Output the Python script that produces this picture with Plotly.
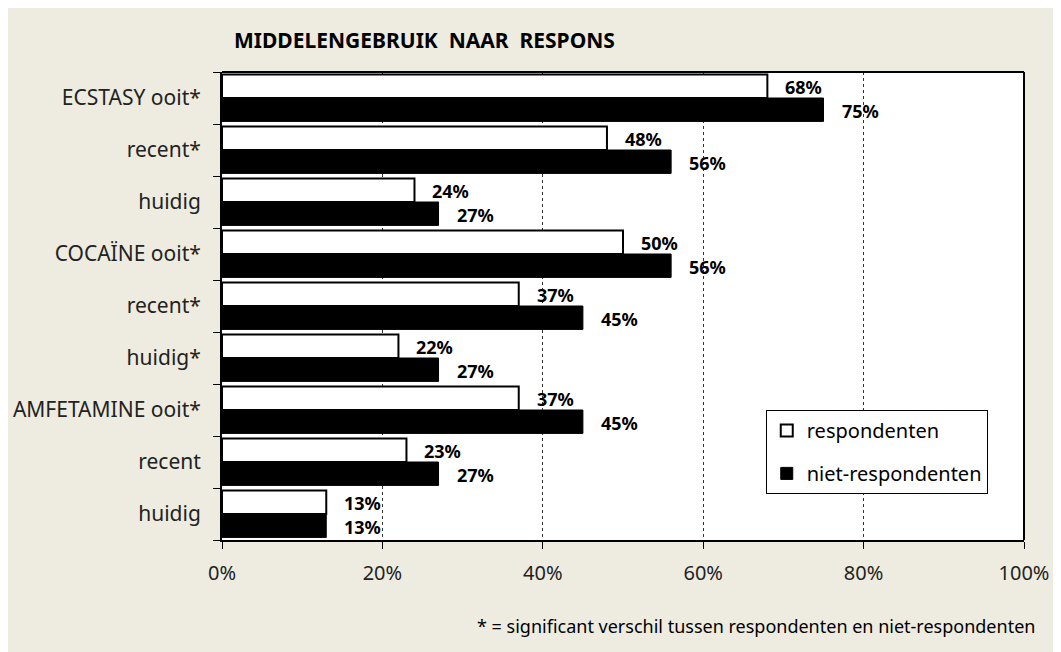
import plotly.graph_objects as go

categories = ["ECSTASY ooit*", "recent*", "huidig", "COCAÏNE ooit*", "recent*",
              "huidig*", "AMFETAMINE ooit*", "recent", "huidig"]
respondenten = [68, 48, 24, 50, 37, 22, 37, 23, 13]
niet_respondenten = [75, 56, 27, 56, 45, 27, 45, 27, 13]
x_ticks = [0, 20, 40, 60, 80, 100]
x_ticklabels = ["0%", "20%", "40%", "60%", "80%", "100%"]

title = "MIDDELENGEBRUIK  NAAR  RESPONS"
footnote = "* = significant verschil tussen respondenten en niet-respondenten"

BG = "rgb(238,236,225)"
FONT = "Noto Sans"
pos = list(range(len(categories)))

fig = go.Figure()
fig.add_trace(go.Bar(
    y=pos, x=respondenten, orientation="h", name="respondenten", legendgroup="a",
    marker=dict(color="white", line=dict(color="black", width=2)),
))
fig.add_trace(go.Bar(
    y=pos, x=niet_respondenten, orientation="h", name="niet-respondenten", legendgroup="b",
    marker=dict(color="black", line=dict(color="black", width=1)),
))

annotations = []
for i, (a, b) in enumerate(zip(respondenten, niet_respondenten)):
    annotations.append(dict(x=a, y=i - 0.225, xref="x", yref="y", text=f"<b>{a}%</b>",
                            showarrow=False, xanchor="left", yanchor="middle",
                            xshift=16, yshift=-1, font=dict(size=18, color="black", family=FONT)))
    annotations.append(dict(x=b, y=i + 0.225, xref="x", yref="y", text=f"<b>{b}%</b>",
                            showarrow=False, xanchor="left", yanchor="middle",
                            xshift=16, yshift=-1, font=dict(size=18, color="black", family=FONT)))

annotations.append(dict(x=0.0125, y=1.0, xref="paper", yref="paper", yshift=32,
                        text=f"<b>{title}</b>", showarrow=False, xanchor="left", yanchor="middle",
                        font=dict(size=21, color="black", family=FONT)))
annotations.append(dict(x=1.016, y=0, xref="paper", yref="paper", yshift=-86,
                        text=footnote, showarrow=False, xanchor="right", yanchor="middle",
                        font=dict(size=18, color="black", family=FONT)))

fig.update_layout(
    width=1061, height=652,
    margin=dict(l=214, r=45, t=64, b=120, autoexpand=False),
    paper_bgcolor=BG, plot_bgcolor="white",
    barmode="group", bargap=0.1, bargroupgap=0,
    font=dict(family=FONT, size=20, color="#222"),
    showlegend=True,
    legend=dict(x=0.678, y=0.278, xanchor="left", yanchor="top",
                bgcolor="white", bordercolor="black", borderwidth=1,
                font=dict(size=20, color="black", family=FONT),
                tracegroupgap=14, itemwidth=30),
    annotations=annotations,
    shapes=[
        dict(type="line", xref="paper", yref="paper", x0=0, x1=1, y0=1, y1=1,
             line=dict(color="black", width=2)),
        dict(type="line", xref="paper", yref="paper", x0=1, x1=1, y0=0, y1=1,
             line=dict(color="black", width=2)),
    ],
)

fig.update_xaxes(
    range=[0, 100], tickvals=x_ticks, ticktext=x_ticklabels, automargin=False,
    showgrid=True, gridcolor="#333", griddash="dot", gridwidth=1,
    showline=True, linecolor="black", linewidth=2,
    ticks="outside", ticklen=7, tickcolor="black", tickwidth=1,
    tickfont=dict(size=20, color="#222", family=FONT),
    ticklabelstandoff=7, zeroline=False,
)
fig.update_yaxes(
    range=[len(categories) - 0.5, -0.5], tickvals=pos, ticktext=categories, automargin=False,
    showgrid=False, zeroline=False,
    showline=True, linecolor="black", linewidth=2,
    ticks="", ticklen=0,
    minor=dict(tickvals=[p - 0.5 for p in pos] + [len(categories) - 0.5],
               ticks="outside", ticklen=7, tickcolor="black", tickwidth=1, showgrid=False),
    tickfont=dict(size=21, color="#222", family=FONT),
    ticklabelstandoff=15,
)

fig.write_html("out.html")
